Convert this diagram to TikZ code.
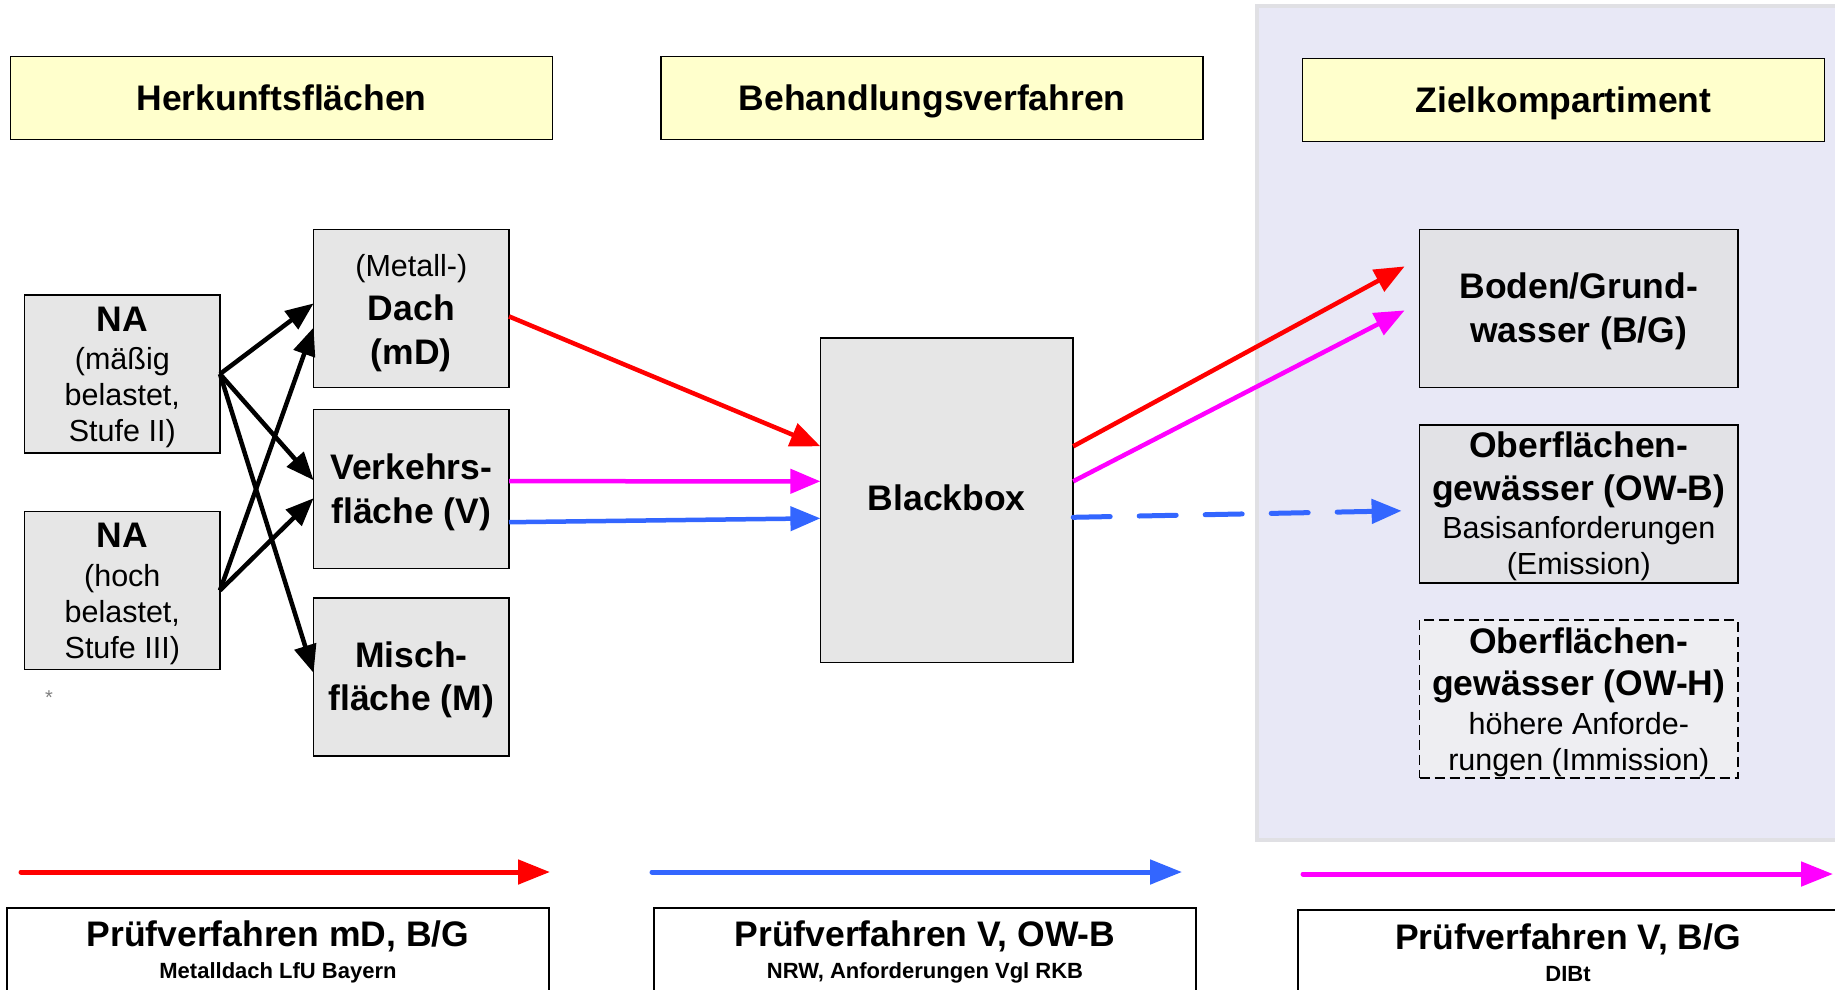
\documentclass[tikz,border=0pt]{standalone}
\usepackage{fontspec}
\setmainfont{Liberation Sans}
\usetikzlibrary{arrows.meta,calc}
\definecolor{boxgray}{RGB}{230,230,230}
\definecolor{boxgrayb}{RGB}{226,226,230}
\definecolor{hdryellow}{RGB}{255,255,204}
\definecolor{lav}{RGB}{232,232,246}
\definecolor{lavedge}{RGB}{224,224,228}
\definecolor{owhfill}{RGB}{238,238,242}
\definecolor{arrred}{RGB}{255,0,0}
\definecolor{arrmag}{RGB}{255,0,255}
\definecolor{arrblue}{RGB}{51,102,255}
\newcommand\bigb[1]{{\bfseries\fontsize{35.5}{43}\selectfont #1}}
\newcommand\titl[1]{{\bfseries\fontsize{35.5}{43}\selectfont #1}}
\newcommand\tstrut[1]{\rule{0pt}{#1}}
\newcommand\dstrut[1]{\rule[-#1]{0pt}{0pt}}
\begin{document}
\begin{tikzpicture}[x=1pt,y=-1pt,
  every node/.style={inner sep=0pt, outer sep=0pt},
  hdr/.style={draw=black, line width=1.5pt, fill=hdryellow, minimum width=542pt, minimum height=83pt, text depth=0pt, font=\bfseries\fontsize{35.5}{43}\selectfont},
  nbox/.style={draw=black, line width=1.5pt, fill=boxgray, align=center, minimum width=195.4pt, minimum height=158pt, font=\fontsize{30.5}{36}\selectfont},
  pbox/.style={draw=black, line width=1.5pt, fill=white, align=center, minimum width=542pt, minimum height=91pt, anchor=north, font=\bfseries\fontsize{22}{26}\selectfont},
  blk/.style={draw=black, line width=4.5pt, -{Triangle[length=28pt,width=22pt]}},
  colarr/.style={line width=4.5pt, -{Triangle[length=30pt,width=24pt]}},
  legarr/.style={line width=5pt, line cap=round, -{Triangle[length=32pt,width=24pt]}}
]
\useasboundingbox (0,0) rectangle (1835,989);
\clip (0,0) rectangle (1835,989);
\fill[white] (0,0) rectangle (1835,989);
% lavender target region
\draw[draw=lavedge, line width=4pt, fill=lav] (1257,6) rectangle (1845,840);

% headers
\node[hdr] (h1) at (281.5,97.8) {Herkunftsflächen};
\node[hdr] (h2) at (932.2,97.8) {Behandlungsverfahren};
\node[hdr, minimum width=522pt] (h3) at (1563.5,100) {Zielkompartiment};

% source boxes
\node[nbox] (na1) at (122.3,374) {\tstrut{31pt}\bigb{NA}\\[2.5pt](mäßig\\belastet,\\Stufe II)};
\node[nbox] (na2) at (122.3,590.4) {\tstrut{31pt}\bigb{NA}\\[2.5pt](hoch\\belastet,\\Stufe III)};
\node[text=gray, font=\fontsize{20}{24}\selectfont] (star) at (49,697.5) {*};

\node[nbox] (dach) at (411.3,308.4) {\tstrut{31pt}(Metall-)\\[8.2pt]\bigb{Dach}\\[7.7pt]\bigb{(mD)}};
\node[nbox, minimum height=159pt] (verk) at (411.3,489.2) {\tstrut{32pt}\bigb{Verkehrs-}\\[7.7pt]\bigb{fläche (V)}};
\node[nbox] (misch) at (411.3,677) {\tstrut{32pt}\bigb{Misch-}\\[7.2pt]\bigb{fläche (M)}};

\node[nbox, minimum width=252.8pt, minimum height=324.2pt] (bb) at (946.8,500.3) {\bigb{Blackbox}\dstrut{4.6pt}};

\node[nbox, minimum width=318.4pt, fill=boxgrayb] (boden) at (1578.8,308.4) {\tstrut{31pt}\bigb{Boden/Grund-}\\[7.7pt]\bigb{wasser (B/G)}};
\node[nbox, minimum width=318.4pt, fill=boxgrayb] (owb) at (1578.8,503.8) {\tstrut{31pt}\bigb{Oberflächen-}\\[6.5pt]\bigb{gewässer (OW-B)}\\[2.5pt]Basisanforderungen\\(Emission)};
\node[nbox, minimum width=318.4pt, fill=owhfill, dash pattern=on 10pt off 5pt] (owh) at (1578.8,699.2) {\tstrut{31pt}\bigb{Oberflächen-}\\[6.5pt]\bigb{gewässer (OW-H)}\\[2.5pt]höhere Anforde-\\rungen (Immission)};

% black arrows
\draw[blk] (na1.east) -- ($(dach.west)+(0,-5)$);
\draw[blk] (na1.east) -- ($(verk.west)+(0,-9)$);
\draw[blk] (na1.east) -- ($(misch.west)+(0,-4)$);
\draw[blk] (na2.east) -- ($(dach.west)+(0,19)$);
\draw[blk] (na2.east) -- ($(verk.west)+(0,9)$);

% coloured arrows into blackbox
\draw[colarr, arrred] ($(dach.east)+(0,8)$) -- ($(bb.west)+(0,-54)$);
\draw[colarr, arrmag] ($(verk.east)+(0,-8)$) -- ($(bb.west)+(0,-19)$);
\draw[colarr, arrblue] ($(verk.east)+(0,33)$) -- ($(bb.west)+(0,18)$);

% coloured arrows out of blackbox
\draw[colarr, arrred] ($(bb.east)+(0,-54)$) -- ($(boden.west)+(-15,-42)$);
\draw[colarr, arrmag] ($(bb.east)+(0,-19)$) -- ($(boden.west)+(-15,2)$);
\draw[colarr, arrblue, line width=5pt, line cap=round, dash pattern=on 37pt off 29pt] ($(bb.east)+(0,17)$) -- ($(owb.west)+(-18,7)$);

% legend arrows
\coordinate (r1) at (21,872);
\coordinate (r2) at (550,872);
\coordinate (b1) at (652,872);
\coordinate (b2) at (1182,872);
\coordinate (m1) at (1303,874);
\coordinate (m2) at (1833,874);
\draw[legarr, arrred] (r1) -- (r2);
\draw[legarr, arrblue] (b1) -- (b2);
\draw[legarr, arrmag] (m1) -- (m2);

% bottom boxes
\node[pbox] (p1) at (278,908) {\titl{Prüfverfahren mD, B/G}\\[6pt]Metalldach LfU Bayern\dstrut{8.1pt}};
\node[pbox] (p2) at (925,908) {\titl{Prüfverfahren V, OW-B}\\[6pt]NRW, Anforderungen Vgl RKB\dstrut{8.1pt}};
\node[pbox, minimum width=540pt] (p3) at (1568,910) {\titl{Prüfverfahren V, B/G}\\[6pt]DIBt\dstrut{6pt}};
\end{tikzpicture}
\end{document}
